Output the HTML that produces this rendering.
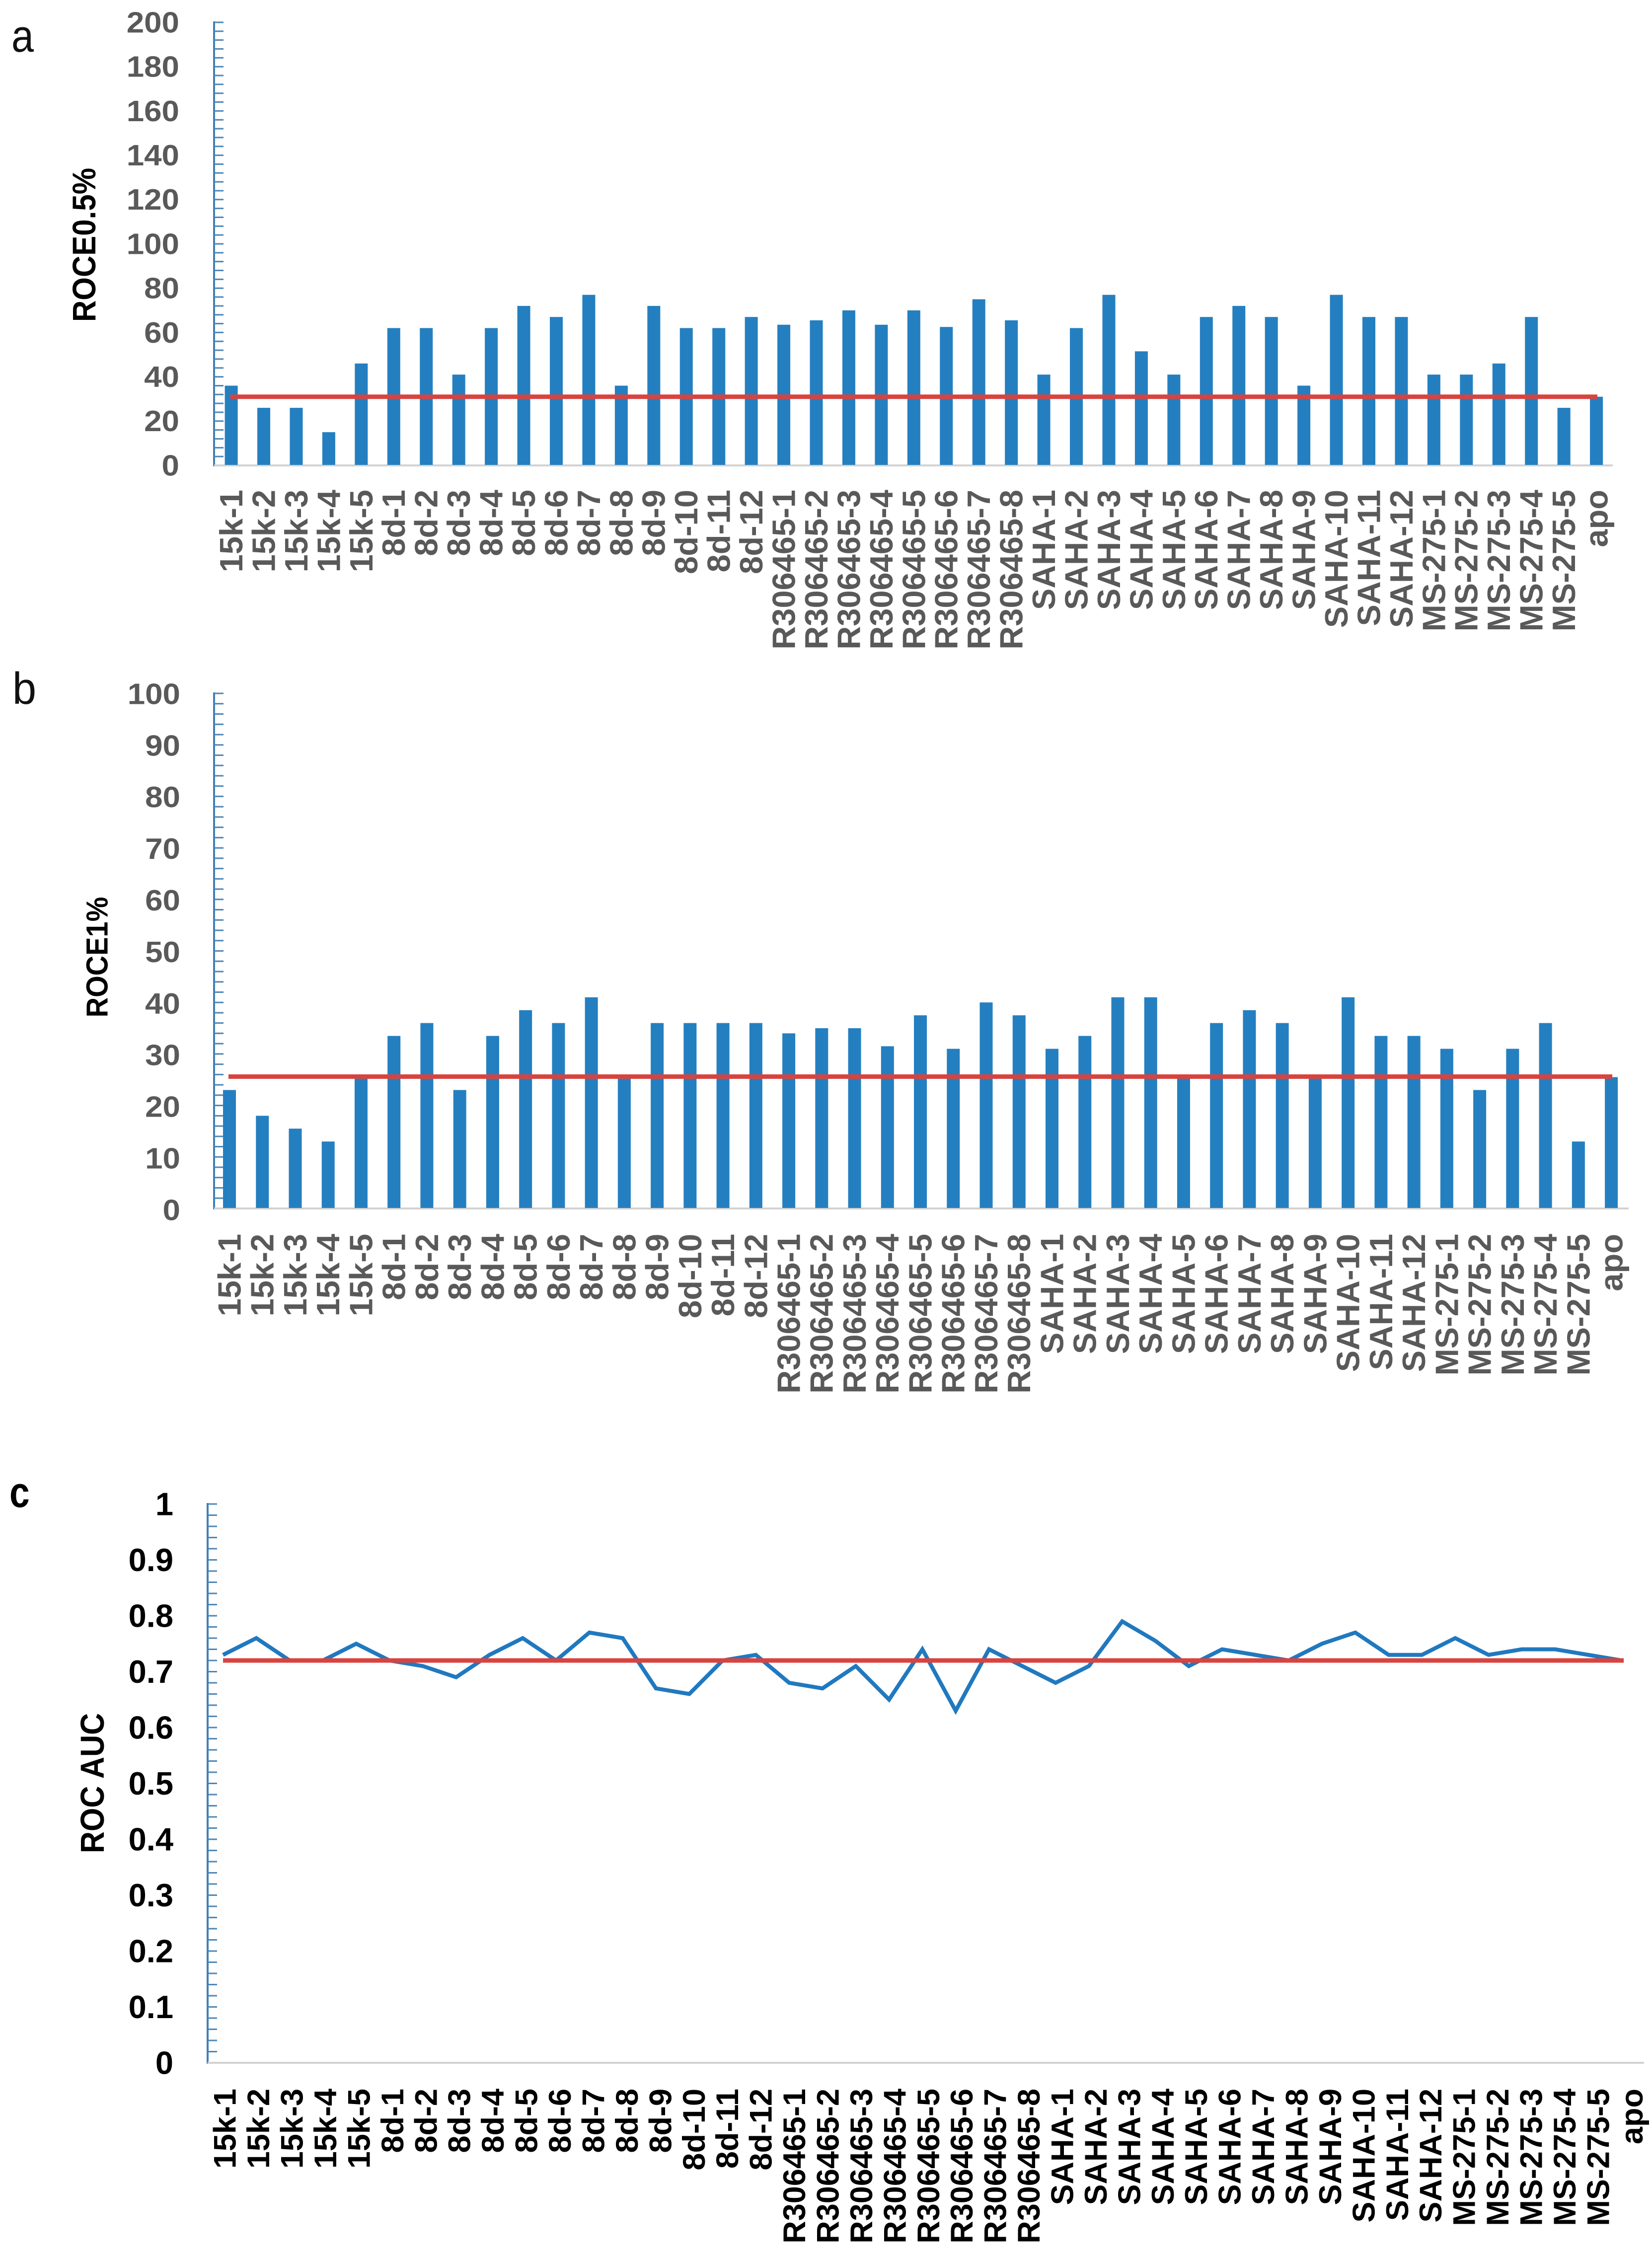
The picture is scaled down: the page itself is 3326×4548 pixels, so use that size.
<!DOCTYPE html>
<html>
<head>
<meta charset="utf-8">
<title>ROC enrichment charts</title>
<style>
html,body{margin:0;padding:0;background:#fff;}
svg{display:block;}
text{font-family:"Liberation Sans",sans-serif;}
</style>
</head>
<body>
<svg id="figure" xmlns="http://www.w3.org/2000/svg" width="3326" height="4548" viewBox="0 0 3326 4548">
  <rect x="0" y="0" width="3326" height="4548" fill="#ffffff"/>
  <text transform="translate(23,104) scale(.88,1)" font-size="92" fill="#111">a</text>
  <text transform="translate(25,1417) scale(.96,1)" font-size="90" fill="#111">b</text>
  <text transform="translate(19,3034) scale(.85,1)" font-size="86" font-weight="bold" fill="#000">c</text>
</svg>
<script>
const categories = ["15k-1","15k-2","15k-3","15k-4","15k-5","8d-1","8d-2","8d-3","8d-4","8d-5","8d-6","8d-7","8d-8","8d-9","8d-10","8d-11","8d-12","R306465-1","R306465-2","R306465-3","R306465-4","R306465-5","R306465-6","R306465-7","R306465-8","SAHA-1","SAHA-2","SAHA-3","SAHA-4","SAHA-5","SAHA-6","SAHA-7","SAHA-8","SAHA-9","SAHA-10","SAHA-11","SAHA-12","MS-275-1","MS-275-2","MS-275-3","MS-275-4","MS-275-5","apo"];
const roce05Values = [36,26,26,15,46,62,62,41,62,72,67,77,36,72,62,62,67,63.5,65.5,70,63.5,70,62.5,75,65.5,41,62,77,51.5,41,67,72,67,36,77,67,67,41,41,46,67,26,31];
const roce1Values = [23,18,15.5,13,25.5,33.5,36,23,33.5,38.5,36,41,25.5,36,36,36,36,34,35,35,31.5,37.5,31,40,37.5,31,33.5,41,41,25.5,36,38.5,36,25.5,41,33.5,33.5,31,23,31,36,13,25.5];
const aucValues = [0.73,0.76,0.72,0.72,0.75,0.72,0.71,0.69,0.73,0.76,0.72,0.77,0.76,0.67,0.66,0.72,0.73,0.68,0.67,0.71,0.65,0.74,0.63,0.74,0.71,0.68,0.71,0.79,0.755,0.71,0.74,0.73,0.72,0.75,0.77,0.73,0.73,0.76,0.73,0.74,0.74,0.73,0.72];
const roce05Baseline = 31;
const roce1Baseline = 25.6;
const aucBaseline = 0.72;
const roce05TickLabels = ["0","20","40","60","80","100","120","140","160","180","200"];
const roce1TickLabels = ["0","10","20","30","40","50","60","70","80","90","100"];
const aucTickLabels = ["0","0.1","0.2","0.3","0.4","0.5","0.6","0.7","0.8","0.9","1"];
const yMinorSteps = 50;

const svg = document.getElementById('figure');
const NS = 'http://www.w3.org/2000/svg';
function mk(tag, attrs, text, parent) {
  const el = document.createElementNS(NS, tag);
  for (const k in attrs) el.setAttribute(k, attrs[k]);
  if (text !== undefined) el.textContent = text;
  (parent || svg).appendChild(el);
  return el;
}

function drawAxes(p, tickLabels, yMax, parent) {
  const y = v => p.y0 + (p.yTop - p.y0) * v / yMax;
  const labelY = v => p.labelZero + (p.labelTop - p.labelZero) * v / yMax;
  const yLine = mk('line', {x1:p.axisX, x2:p.axisX, y1:p.yTop - 2, y2:p.y0 + 2, stroke:'#3f80b8', 'stroke-width':4}, undefined, parent);
  
  
  for (let i = 1; i <= yMinorSteps; i++) {
    const t = mk('line', {x1:p.axisX, x2:p.axisX + 19, y1:y(yMax * i / yMinorSteps), y2:y(yMax * i / yMinorSteps), stroke:'#4f86b5', 'stroke-width':3}, undefined, parent);
    
    
  }
  const xLine = mk('line', {x1:p.axisX, x2:p.axisEnd, y1:p.y0, y2:p.y0, stroke:'#d2d2d2', 'stroke-width':4}, undefined, parent);
  
  
  tickLabels.forEach(function (lab) {
    const v = parseFloat(lab);
    const tl = mk('text', {
      transform: 'translate(' + p.labelRight + ',' + (labelY(v) + p.tickSize * .345) + ') scale(' + p.tickScale + ',1)',
      'text-anchor':'end', 'font-size':p.tickSize, 'font-weight':'bold', fill:p.textColor
    }, lab, parent);
    
    
  });
  categories.forEach(function (c, i) {
    const cx = p.catX0 + p.catStep * i;
    const cl = mk('text', {
      transform: 'translate(' + (cx + p.catSize * .345) + ',' + p.catTop + ') rotate(-90)',
      'text-anchor':'end', 'font-size':p.catSize, 'font-weight':'bold', fill:p.textColor
    }, c, parent);
    
    
  });
  const title = mk('text', {
    transform: 'translate(' + (p.titleX + p.titleSize * .345 * 1.1) + ',' + p.titleY + ') rotate(-90) scale(1,1.1)',
    'text-anchor':'middle', 'font-size':p.titleSize, 'font-weight':'bold', fill:'#000'
  }, p.title, parent);
  
  
  return y;
}

function drawBars(p, values, labels, yMax, baseline) {
  const g = mk('g', {});
  
  
  const y = drawAxes(p, labels, yMax, g);
  values.forEach(function (v, i) {
    const cx = p.x0 + p.dx * i;
    const b = mk('rect', {x:cx - 13, width:26, y:y(v), height:p.y0 - y(v) - 1, fill:'#247fc0'}, undefined, g);
    
    
  });
  const r = mk('line', {x1:p.x0 - 2, x2:p.x0 + p.dx * (values.length - 1) + 2, y1:y(baseline), y2:y(baseline), stroke:'#d8433f', 'stroke-width':9}, undefined, g);
  
  
}

function drawLine(p, values, labels, yMax, baseline) {
  const g = mk('g', {});
  
  
  const y = drawAxes(p, labels, yMax, g);
  const pts = values.map(function (v, i) { return (p.x0 + p.dx * i) + ',' + y(v); }).join(' ');
  const l = mk('polyline', {points:pts, fill:'none', stroke:'#2079bf', 'stroke-width':8, 'stroke-linejoin':'miter'}, undefined, g);
  
  
  const r = mk('line', {x1:p.x0, x2:p.x0 + p.dx * (values.length - 1) + 4, y1:y(baseline), y2:y(baseline), stroke:'#d8433f', 'stroke-width':9}, undefined, g);
  
  
}

drawBars({name:'chart-roce-0-5', title:'ROCE0.5%', axisX:431, axisEnd:3247, yTop:45, y0:937, x0:465.6, dx:65.44,
  catTop:986, catSize:65, catX0:465.6, catStep:65.44, labelRight:361, labelZero:937, labelTop:45, tickSize:59, tickScale:1.08, textColor:'#595959',
  titleX:169, titleY:493, titleSize:60}, roce05Values, roce05TickLabels, 200, roce05Baseline);

drawBars({name:'chart-roce-1', title:'ROCE1%', axisX:431, axisEnd:3279, yTop:1396, y0:2433, x0:462, dx:66.24,
  catTop:2484, catSize:65, catX0:462, catStep:66.24, labelRight:363, labelZero:2436, labelTop:1397, tickSize:59, tickScale:1.08, textColor:'#595959',
  titleX:195, titleY:1927, titleSize:56}, roce1Values, roce1TickLabels, 100, roce1Baseline);

drawLine({name:'chart-roc-auc', title:'ROC AUC', axisX:418, axisEnd:3310, yTop:3028, y0:4153, x0:449, dx:67.05,
  catTop:4205, catSize:63, catX0:453, catStep:67.43, labelRight:349, labelZero:4153, labelTop:3028, tickSize:65, tickScale:1, textColor:'#000',
  titleX:186, titleY:3590, titleSize:61}, aucValues, aucTickLabels, 1, aucBaseline);
</script>
</body>
</html>
